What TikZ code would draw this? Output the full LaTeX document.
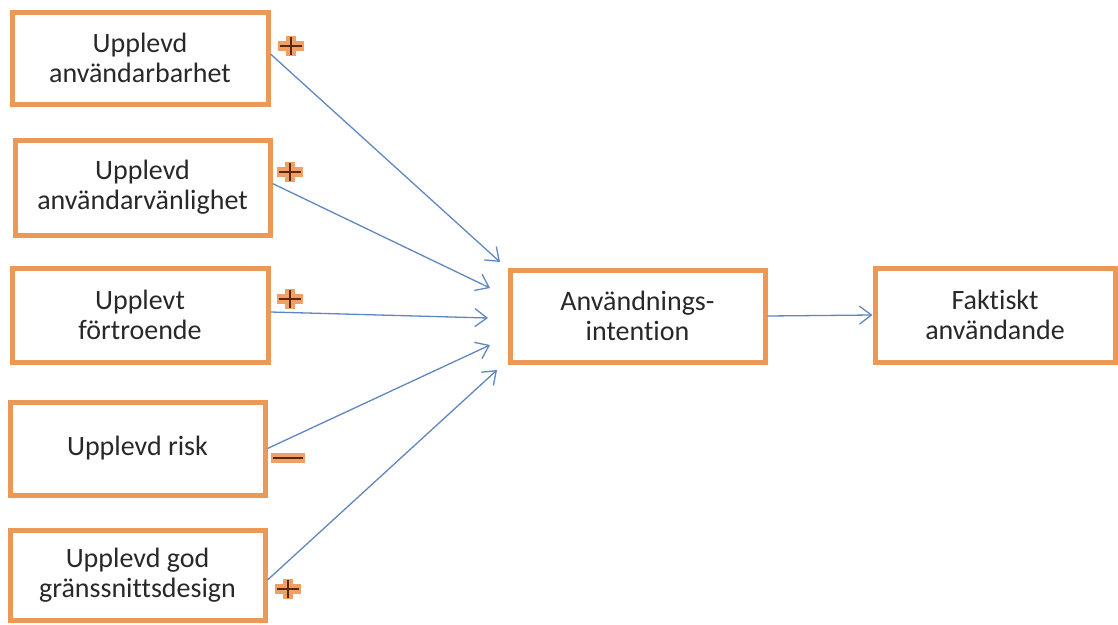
\documentclass[tikz,border=0pt]{standalone}
\usepackage{fontspec}
\setmainfont{Carlito}[Ligatures=NoCommon]
\usetikzlibrary{arrows.meta}
\definecolor{boxorange}{RGB}{236,152,86}
\definecolor{arrowblue}{RGB}{95,135,190}
\definecolor{txtgray}{RGB}{40,40,40}
\definecolor{signdark}{RGB}{90,40,10}
\definecolor{signglow}{RGB}{240,160,100}
\tikzset{
  factor/.style={draw=boxorange, line width=5pt, rectangle, align=center,
    text=txtgray, font=\fontsize{28}{30}\selectfont, inner sep=0pt},
  link/.style={draw=arrowblue, line width=1.3pt, -{Straight Barb[length=12pt,width=18pt,line width=1.3pt]}},
  glow/.style={draw=signglow, line width=10pt},
  signline/.style={draw=signdark, line width=1.6pt}
}
\begin{document}
\begin{tikzpicture}[x=1pt,y=-1pt]
\useasboundingbox (0,0) rectangle (1118,624);
\node[factor, minimum width=256pt, minimum height=92pt] (b1) at (140,58) {Upplevd\\användarbarhet};
\node[factor, minimum width=255pt, minimum height=95pt] (b2) at (142.5,187.5) {Upplevd\\användarvänlighet};
\node[factor, minimum width=256pt, minimum height=94pt] (b3) at (140,315) {Upplevt\\förtroende};
\node[factor, minimum width=255pt, minimum height=93pt] (b4) at (137.5,448.5) {Upplevd risk};
\node[factor, minimum width=255pt, minimum height=90pt] (b5) at (137.5,575) {Upplevd god\\gränssnittsdesign};
\node[factor, minimum width=255pt, minimum height=92pt] (c) at (637.5,316) {Användnings-\\intention};
\node[factor, minimum width=240pt, minimum height=94pt] (r) at (995,315) {Faktiskt\\användande};
\coordinate (t1) at (500,262);
\coordinate (t2) at (490,288);
\coordinate (t3) at (488,318);
\coordinate (t4) at (490,345);
\coordinate (t5) at (497,370);
\draw[link] ([yshift=4pt]b1.east) -- (t1);
\draw[link] ([yshift=4pt]b2.east) -- (t2);
\draw[link] ([yshift=3pt]b3.east) -- (t3);
\draw[link] (b4.east) -- (t4);
\draw[link] ([yshift=-5pt]b5.east) -- (t5);
\draw[link] (c.east) -- (r.west);
% plus signs
\foreach \n/\px/\py in {p1/291/46, p2/290/172, p3/290/299, p5/288/589}{
  \coordinate (\n) at (\px,\py);
  \draw[glow] ([xshift=-13pt]\n) -- ([xshift=13pt]\n);
  \draw[glow] ([yshift=-10pt]\n) -- ([yshift=10pt]\n);
  \draw[signline] ([xshift=-11pt]\n) -- ([xshift=11pt]\n);
  \draw[signline] ([yshift=-9pt]\n) -- ([yshift=9pt]\n);
}
\coordinate (m4) at (288,458);
\draw[glow] ([xshift=-17pt]m4) -- ([xshift=17pt]m4);
\draw[signline] ([xshift=-15pt]m4) -- ([xshift=15pt]m4);
\end{tikzpicture}
\end{document}
